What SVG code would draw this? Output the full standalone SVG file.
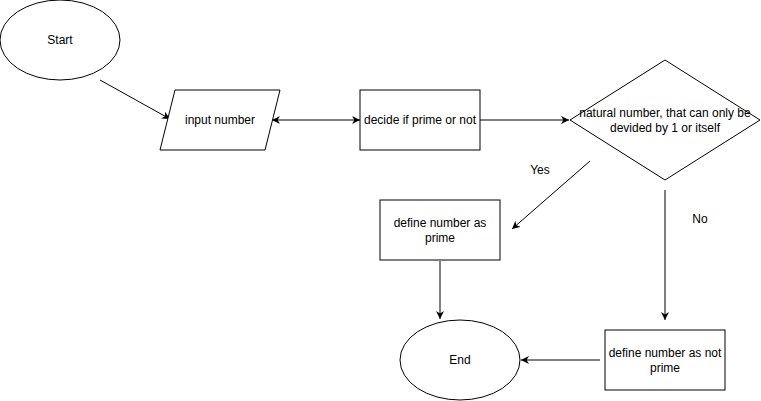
<svg xmlns="http://www.w3.org/2000/svg" width="761" height="401" viewBox="0 0 761 401">
<style>
.n{fill:#fff;stroke:#000;stroke-width:1}
.t{font-family:"Liberation Sans",Arial,sans-serif;font-size:12px;fill:#000;text-anchor:middle}
.e{fill:none;stroke:#000;stroke-width:1}
</style>
<defs>
<marker id="a" viewBox="0 0 10 10" refX="10" refY="5" markerWidth="8" markerHeight="8" markerUnits="userSpaceOnUse" orient="auto">
<path d="M0,0 L10,5 L0,10 L3,5 Z" fill="#000"/>
</marker>
<marker id="s" viewBox="0 0 10 10" refX="0" refY="5" markerWidth="8" markerHeight="8" markerUnits="userSpaceOnUse" orient="auto">
<path d="M10,0 L0,5 L10,10 L7,5 Z" fill="#000"/>
</marker>
</defs>
<rect width="761" height="401" fill="#fff"/>
<g id="connectors">
<line class="e" x1="100" y1="80" x2="170" y2="119" marker-end="url(#a)"/>
<line class="e" x1="272" y1="120" x2="360" y2="120" marker-start="url(#s)" marker-end="url(#a)"/>
<line class="e" x1="480" y1="120" x2="569" y2="120" marker-end="url(#a)"/>
<line class="e" x1="590" y1="161" x2="512" y2="229" marker-end="url(#a)"/>
<line class="e" x1="665" y1="190" x2="665" y2="320" marker-end="url(#a)"/>
<line class="e" x1="440" y1="261" x2="440" y2="319" marker-end="url(#a)"/>
<line class="e" x1="600" y1="360" x2="521" y2="360" marker-end="url(#a)"/>
<text class="t" x="540" y="174">Yes</text>
<text class="t" x="700" y="223">No</text>
</g>
<g id="start">
<ellipse class="n" cx="60" cy="40" rx="60" ry="40"/>
<text class="t" x="60" y="44">Start</text>
</g>
<g id="input">
<polygon class="n" points="175,90 280,90 265,150 160,150"/>
<text class="t" x="220" y="124">input number</text>
</g>
<g id="decide">
<rect class="n" x="360" y="90" width="120" height="60"/>
<text class="t" x="420" y="124">decide if prime or not</text>
</g>
<g id="diamond">
<polygon class="n" points="570,120 665,60 760,120 665,180"/>
<text class="t" x="665" y="117">natural number, that can only be</text>
<text class="t" x="665" y="132">devided by 1 or itself</text>
</g>
<g id="prime">
<rect class="n" x="380" y="200" width="120" height="60"/>
<text class="t" x="440" y="227">define number as</text>
<text class="t" x="440" y="242">prime</text>
</g>
<g id="end">
<ellipse class="n" cx="460" cy="360" rx="60" ry="40"/>
<text class="t" x="460" y="364">End</text>
</g>
<g id="notprime">
<rect class="n" x="605" y="330" width="120" height="60"/>
<text class="t" x="665" y="357">define number as not</text>
<text class="t" x="665" y="372">prime</text>
</g>
</svg>
